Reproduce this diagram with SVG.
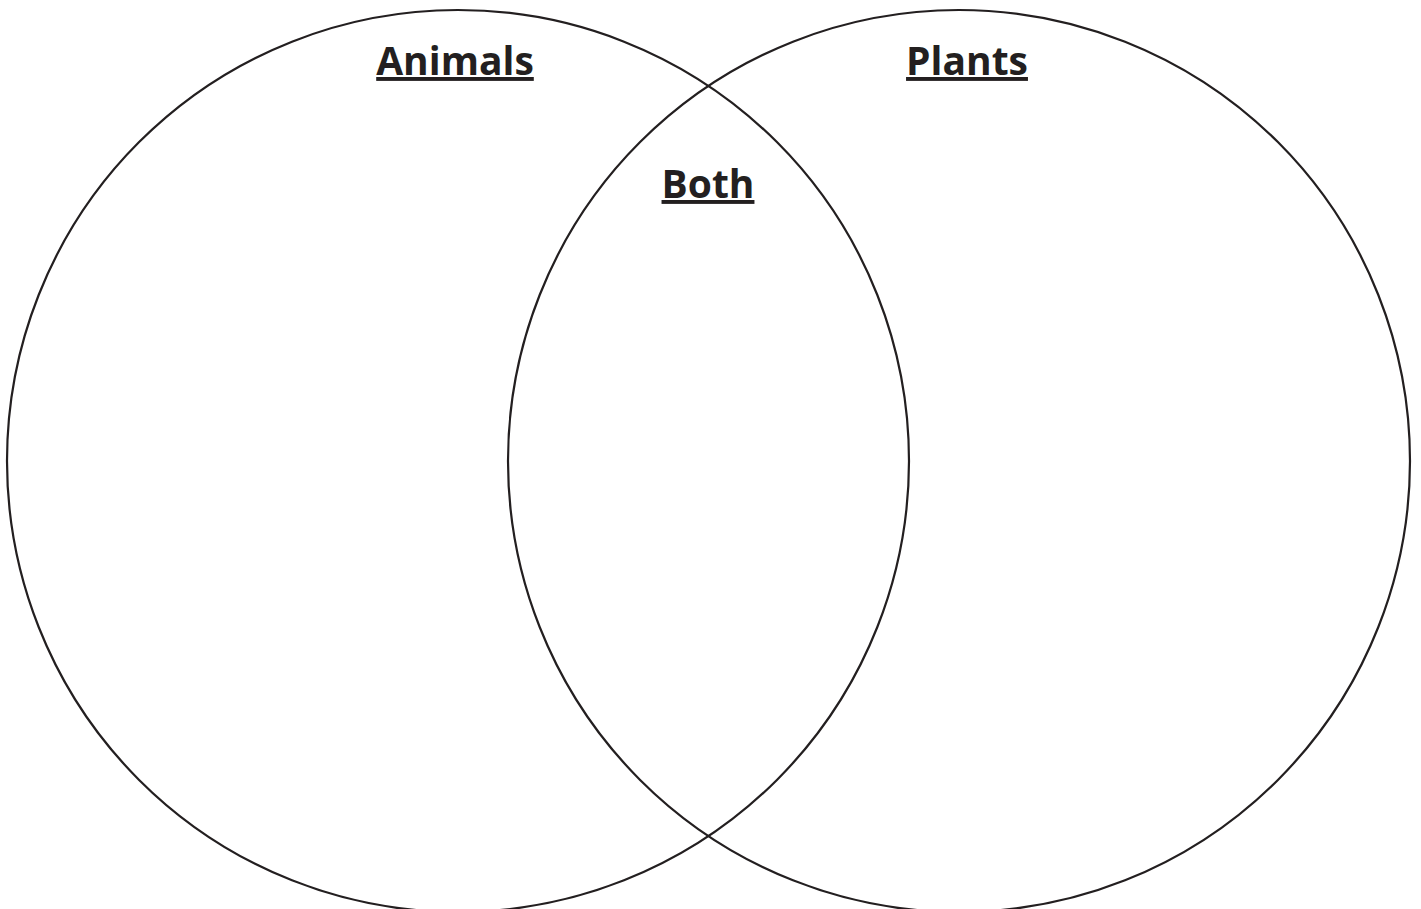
<svg xmlns="http://www.w3.org/2000/svg" width="1421" height="909" viewBox="0 0 1421 909">
<style>
.c{fill:none;stroke:#231f20;stroke-width:2.2}
.t{font-family:"Open Sans",Lato,sans-serif;font-weight:bold;font-size:39px;fill:#231f20;text-anchor:middle;text-decoration:underline}
</style>
<rect width="1421" height="909" fill="#fff"/>
<g id="animals"><circle class="c" cx="458" cy="461" r="451"/><text class="t" x="455" y="75">Animals</text></g>
<g id="plants"><circle class="c" cx="959" cy="461" r="451"/><text class="t" x="967" y="75">Plants</text></g>
<g id="both"><text class="t" x="708" y="198">Both</text></g>
<g id="connectors"/>
</svg>
